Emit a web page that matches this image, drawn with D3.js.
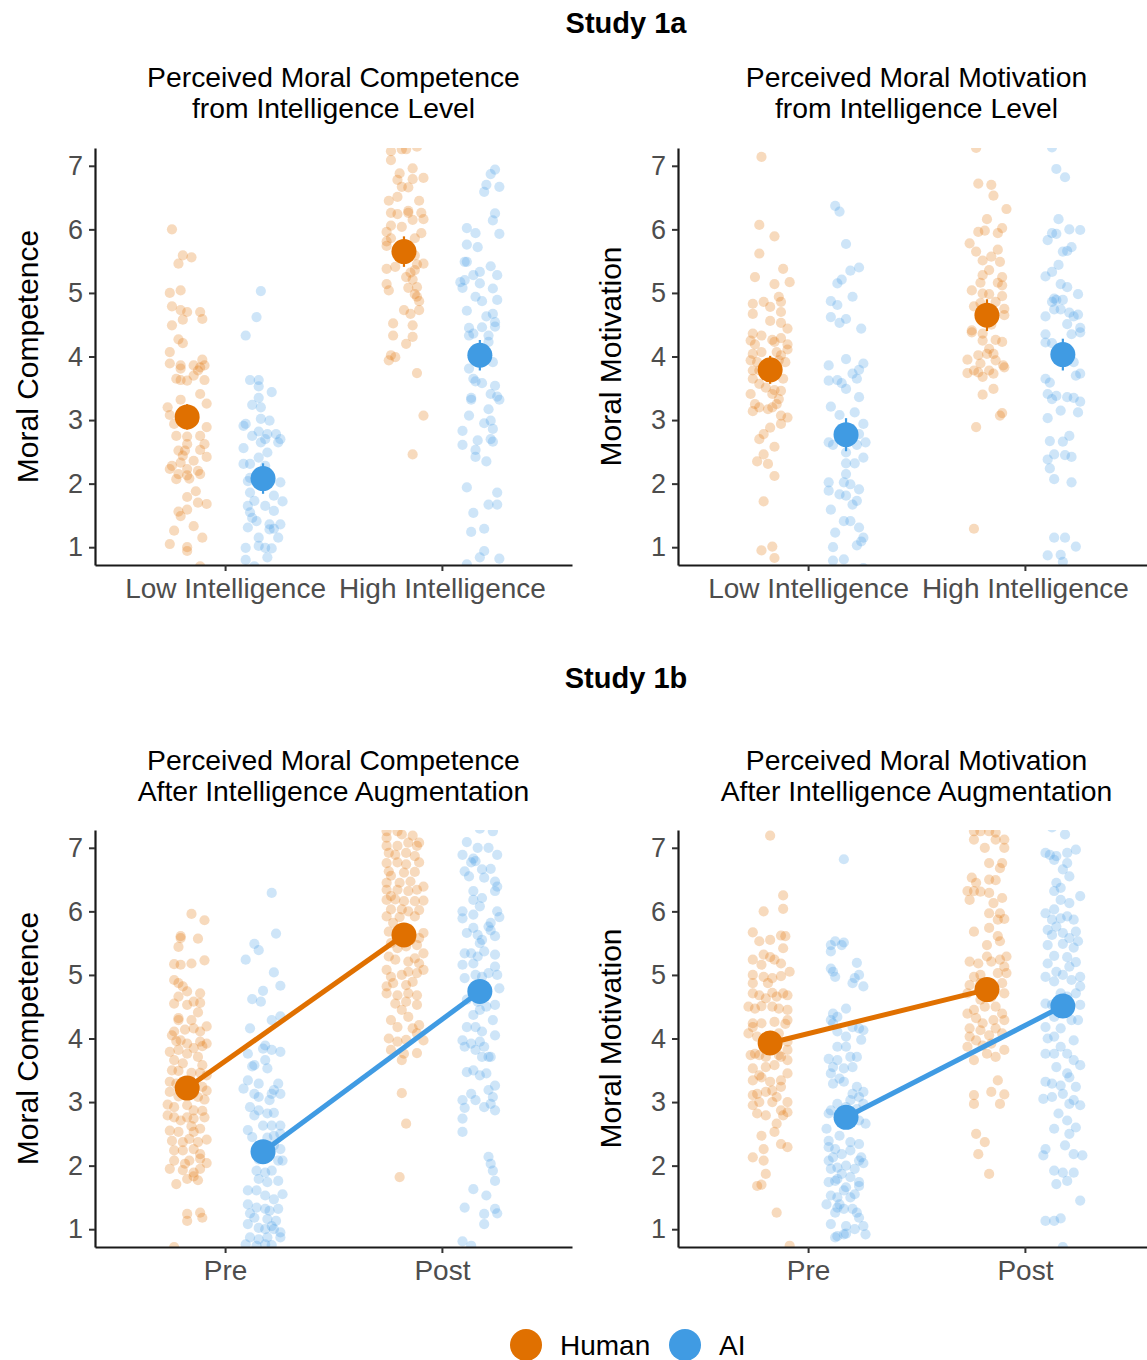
<!DOCTYPE html>
<html>
<head>
<meta charset="utf-8">
<script src="https://cdn.jsdelivr.net/npm/d3@7"></script>
<style>
  html, body { margin: 0; padding: 0; background: #ffffff; }
  svg { display: block; font-family: "Liberation Sans", Arial, Helvetica, sans-serif; }
</style>
</head>
<body>
<svg id="chart" width="1147" height="1360"></svg>
<script>
// ---------------- DATA ----------------
const groups = ["Human", "AI"];
const groupColors = ["#E07000", "#409BE3"];
const study1aCategories = ["Low Intelligence", "High Intelligence"];
const study1bCategories = ["Pre", "Post"];
const yTicks = [1, 2, 3, 4, 5, 6, 7];

// means and 95% CI half-widths: [category1, category2]
const comp1aHumanMeans = [3.05, 5.65];
const comp1aAIMeans = [2.08, 4.02];
const comp1aHumanCI = [0.20, 0.24];
const comp1aAICI = [0.24, 0.24];
const motiv1aHumanMeans = [3.79, 4.65];
const motiv1aAIMeans = [2.77, 4.03];
const motiv1aHumanCI = [0.22, 0.25];
const motiv1aAICI = [0.26, 0.25];
const comp1bHumanMeans = [3.22, 5.63];
const comp1bAIMeans = [2.22, 4.74];
const comp1bHumanCI = [0.12, 0.12];
const comp1bAICI = [0.13, 0.13];
const motiv1bHumanMeans = [3.93, 4.77];
const motiv1bAIMeans = [2.76, 4.51];
const motiv1bHumanCI = [0.12, 0.12];
const motiv1bAICI = [0.13, 0.13];

// raw responses: [jitter offset (category units), rating]
const comp1aLowHuman = [[-0.07,6.0],[-0.02,5.59],[0.02,5.56],[-0.04,5.46],[-0.08,5.0],[-0.03,5.04],[-0.07,4.79],[-0.03,4.73],[0.0,4.7],[0.06,4.7],[0.07,4.59],[-0.02,4.58],[-0.07,4.49],[-0.04,4.27],[-0.02,4.21],[-0.08,4.07],[-0.08,3.89],[-0.03,3.86],[-0.03,3.81],[0.03,3.86],[0.06,3.83],[0.08,3.86],[0.05,3.78],[0.07,3.95],[-0.05,3.65],[-0.03,3.63],[0.0,3.62],[0.03,3.7],[0.08,3.63],[0.06,3.41],[-0.03,3.32],[0.09,3.26],[-0.09,3.2],[-0.08,3.08],[-0.06,2.94],[0.09,2.89],[0.06,2.75],[-0.05,2.75],[0.0,2.74],[0.0,2.62],[0.08,2.62],[-0.01,2.52],[-0.04,2.52],[0.06,2.53],[-0.02,2.44],[0.09,2.42],[-0.03,2.33],[0.03,2.36],[-0.07,2.28],[-0.08,2.23],[0.0,2.23],[0.05,2.2],[-0.04,2.15],[0.0,2.13],[0.06,2.15],[-0.05,2.07],[0.01,2.08],[0.04,1.88],[0.0,1.79],[0.05,1.7],[0.09,1.68],[0.0,1.59],[-0.04,1.56],[-0.03,1.49],[0.03,1.33],[-0.06,1.26],[0.07,1.15],[-0.08,1.05],[0.0,1.0],[0.0,0.94],[0.06,0.7],[0.0,3.1],[-0.02,2.98],[0.03,3.0]];
const comp1aLowAI = [[-0.01,5.03],[-0.03,4.62],[-0.08,4.33],[-0.06,3.63],[-0.02,3.63],[-0.02,3.53],[0.04,3.44],[-0.02,3.35],[-0.05,3.24],[-0.01,3.2],[-0.01,3.02],[0.03,2.99],[-0.08,2.94],[-0.09,2.91],[-0.02,2.82],[0.02,2.78],[0.06,2.78],[-0.05,2.75],[0.01,2.7],[0.08,2.7],[0.07,2.65],[-0.01,2.65],[-0.09,2.56],[0.02,2.49],[-0.02,2.41],[-0.06,2.31],[-0.09,2.31],[0.01,2.28],[-0.06,2.09],[0.08,2.02],[-0.07,2.04],[-0.06,1.86],[0.05,1.81],[-0.04,1.73],[0.09,1.72],[-0.07,1.65],[0.01,1.65],[-0.06,1.55],[0.05,1.57],[-0.05,1.46],[-0.03,1.41],[0.03,1.36],[-0.07,1.31],[0.08,1.36],[0.03,1.28],[0.05,1.29],[-0.02,1.15],[0.07,1.15],[-0.08,0.99],[-0.02,1.02],[0.01,0.99],[0.04,0.98],[0.02,0.84],[-0.08,0.8],[-0.04,0.7],[0.0,2.15],[0.02,2.0]];
const comp1aHighHuman = [[-0.06,7.23],[-0.01,7.26],[0.01,7.26],[0.06,7.3],[-0.06,7.09],[-0.02,6.88],[0.04,6.96],[-0.03,6.78],[0.04,6.79],[0.09,6.81],[-0.01,6.67],[0.02,6.66],[-0.07,6.45],[-0.03,6.51],[0.07,6.45],[-0.06,6.26],[-0.03,6.24],[0.02,6.26],[0.02,6.29],[0.08,6.26],[0.09,6.16],[0.04,6.15],[-0.06,6.06],[-0.01,6.04],[-0.08,5.96],[0.08,5.94],[-0.06,5.86],[0.05,5.86],[-0.08,5.81],[-0.08,5.74],[0.05,5.59],[0.09,5.46],[0.06,5.45],[-0.04,5.41],[-0.08,5.38],[0.05,5.36],[0.03,5.32],[0.01,5.25],[0.04,5.21],[-0.08,5.14],[0.06,5.09],[-0.07,5.04],[0.02,5.08],[0.05,4.98],[0.06,4.94],[0.07,4.87],[0.07,4.73],[0.0,4.73],[0.03,4.67],[-0.05,4.52],[0.04,4.49],[-0.05,4.33],[0.04,4.31],[0.01,4.2],[-0.06,4.02],[-0.07,3.94],[-0.04,3.99],[0.06,3.74],[0.09,3.07],[0.04,2.46],[0.0,5.7],[-0.02,5.55]];
const comp1aHighAI = [[0.07,6.94],[0.05,6.87],[0.03,6.7],[0.02,6.59],[0.09,6.67],[0.07,6.25],[0.06,6.14],[-0.06,6.02],[-0.02,5.94],[0.09,5.93],[-0.06,5.76],[-0.01,5.72],[-0.07,5.49],[-0.06,5.49],[0.05,5.42],[0.08,5.28],[0.0,5.33],[-0.09,5.17],[-0.07,5.2],[-0.03,5.28],[-0.08,5.08],[0.0,5.15],[0.06,5.07],[0.08,4.89],[-0.02,4.94],[0.01,4.87],[-0.06,4.72],[0.03,4.63],[0.06,4.67],[0.07,4.54],[0.07,4.47],[-0.05,4.45],[0.01,4.46],[0.04,4.33],[-0.03,4.36],[-0.05,4.33],[0.04,4.23],[0.06,3.91],[-0.05,3.81],[-0.03,3.65],[0.01,3.58],[-0.02,3.61],[0.07,3.54],[0.05,3.41],[0.08,3.37],[0.09,3.32],[-0.04,3.35],[-0.04,3.32],[0.04,3.17],[-0.05,3.07],[0.05,2.99],[0.02,2.95],[0.06,2.86],[-0.08,2.83],[-0.08,2.61],[-0.01,2.68],[0.05,2.7],[0.06,2.66],[-0.02,2.53],[-0.02,2.42],[0.03,2.35],[-0.06,1.94],[0.08,1.86],[0.04,1.67],[0.08,1.67],[-0.03,1.54],[0.02,1.29],[-0.04,1.24],[0.02,0.94],[0.0,0.84],[0.09,0.82],[-0.06,0.73],[0.02,4.05],[-0.02,3.98]];

const motiv1aLowHuman = [[-0.04,7.14],[-0.05,6.07],[0.02,5.89],[-0.05,5.62],[0.06,5.38],[-0.07,5.25],[0.02,5.14],[0.09,5.17],[-0.08,4.83],[-0.03,4.86],[0.0,4.78],[0.05,4.86],[0.04,4.94],[-0.08,4.67],[0.05,4.7],[0.0,4.56],[0.05,4.53],[0.08,4.44],[-0.08,4.36],[-0.04,4.33],[0.05,4.29],[0.01,4.26],[-0.09,4.25],[-0.07,4.19],[0.02,4.23],[0.08,4.19],[0.08,4.11],[-0.08,4.04],[-0.04,4.07],[0.03,4.07],[0.05,4.02],[-0.09,3.94],[-0.06,3.91],[0.04,3.94],[0.07,3.91],[-0.08,3.78],[-0.05,3.78],[-0.08,3.65],[0.06,3.65],[-0.05,3.57],[-0.02,3.51],[0.02,3.47],[0.05,3.46],[-0.09,3.41],[0.01,3.41],[0.04,3.33],[0.03,3.25],[-0.07,3.25],[-0.05,3.2],[-0.08,3.14],[-0.01,3.17],[0.01,3.2],[0.05,3.07],[0.08,3.04],[0.05,2.94],[0.0,2.88],[-0.03,2.78],[0.02,2.58],[-0.05,2.7],[-0.03,2.46],[-0.06,2.35],[-0.01,2.31],[0.02,2.12],[-0.03,1.72],[-0.04,0.95],[0.01,1.01],[0.02,0.83],[0.0,3.85],[0.02,3.7]];
const motiv1aLowAI = [[-0.05,6.37],[-0.03,6.28],[0.0,5.77],[0.06,5.4],[0.02,5.35],[-0.02,5.21],[-0.04,5.15],[0.03,4.94],[-0.07,4.87],[-0.04,4.81],[-0.07,4.62],[0.0,4.59],[-0.03,4.53],[0.07,4.44],[0.0,3.96],[-0.08,3.86],[0.08,3.89],[0.06,3.79],[0.03,3.73],[-0.08,3.62],[-0.04,3.63],[-0.02,3.58],[0.05,3.65],[0.0,3.49],[0.06,3.36],[-0.07,3.21],[-0.03,3.08],[0.04,3.12],[0.08,2.94],[0.06,2.78],[-0.08,2.65],[-0.06,2.61],[0.0,2.49],[0.05,2.61],[0.09,2.65],[0.08,2.41],[0.0,2.32],[0.04,2.32],[0.0,2.15],[-0.08,2.02],[-0.08,1.89],[-0.01,2.02],[0.06,1.91],[0.02,1.99],[-0.03,1.83],[0.0,1.81],[0.05,1.73],[0.03,1.67],[-0.07,1.59],[-0.01,1.41],[0.02,1.41],[-0.05,1.23],[0.06,1.31],[0.08,1.15],[0.07,1.09],[-0.06,1.0],[0.05,1.03],[-0.06,0.79],[-0.01,0.81],[0.08,0.67],[0.0,2.85],[0.02,2.7]];
const motiv1aHighHuman = [[-0.05,7.28],[-0.04,6.72],[0.02,6.7],[0.03,6.53],[0.09,6.32],[0.0,6.16],[-0.04,5.96],[-0.01,5.98],[0.05,5.94],[0.07,6.02],[-0.08,5.78],[-0.05,5.65],[0.05,5.68],[0.02,5.57],[-0.02,5.51],[0.06,5.49],[0.01,5.36],[-0.02,5.28],[-0.03,5.16],[0.07,5.25],[0.07,5.12],[0.05,5.16],[-0.07,5.04],[-0.02,4.99],[0.01,4.98],[0.04,4.86],[0.07,4.95],[-0.06,4.79],[-0.03,4.84],[0.08,4.75],[0.08,4.65],[-0.07,4.38],[-0.02,4.36],[-0.02,4.25],[0.04,4.26],[0.07,4.23],[-0.07,4.41],[0.01,4.12],[0.0,4.04],[-0.04,4.02],[0.03,4.04],[0.04,3.94],[-0.09,3.95],[-0.03,3.89],[0.08,3.83],[0.075,3.86],[0.01,3.78],[-0.06,3.78],[-0.09,3.74],[-0.04,3.75],[-0.02,3.68],[0.03,3.73],[0.03,3.49],[-0.02,3.4],[0.07,3.11],[0.06,3.07],[-0.05,2.89],[-0.06,1.29],[0.0,4.6],[0.02,4.5]];
const motiv1aHighAI = [[-0.05,7.29],[-0.03,6.95],[0.01,6.82],[-0.02,6.16],[-0.05,5.94],[-0.03,5.93],[0.03,6.0],[0.08,5.99],[-0.07,5.83],[0.0,5.65],[0.02,5.66],[0.04,5.72],[-0.02,5.44],[-0.08,5.26],[-0.05,5.33],[-0.01,5.14],[0.02,5.09],[0.07,4.98],[-0.04,4.91],[-0.03,4.89],[0.0,4.89],[-0.05,4.86],[-0.04,4.74],[-0.01,4.74],[-0.08,4.63],[0.03,4.69],[0.05,4.63],[0.07,4.66],[0.02,4.51],[0.08,4.45],[0.08,4.38],[0.04,4.35],[-0.08,4.35],[-0.08,4.22],[-0.05,4.21],[0.05,3.91],[0.08,3.73],[0.06,3.7],[-0.08,3.65],[-0.06,3.59],[-0.07,3.41],[-0.03,3.38],[-0.05,3.33],[0.02,3.36],[0.05,3.35],[0.08,3.29],[-0.01,3.15],[0.07,3.12],[-0.07,3.03],[0.03,2.75],[0.0,2.66],[-0.06,2.67],[-0.04,2.46],[0.01,2.45],[0.04,2.42],[-0.07,2.38],[-0.06,2.24],[-0.04,2.07],[0.04,2.02],[-0.04,1.15],[0.01,1.15],[0.06,1.01],[-0.07,0.87],[-0.01,0.88],[0.0,0.77],[0.0,4.05],[0.02,3.95]];

const comp1bPreHuman = [[0.02,5.96],[0.08,5.86],[-0.03,5.61],[-0.03,5.58],[0.05,5.57],[-0.04,5.44],[-0.06,5.17],[-0.03,5.16],[0.02,5.18],[0.08,5.23],[-0.06,4.92],[-0.04,4.87],[-0.02,4.82],[0.06,4.71],[0.0,4.74],[0.03,4.58],[0.06,4.56],[0.05,4.41],[-0.06,4.55],[0.0,4.53],[-0.04,4.66],[-0.04,4.32],[-0.04,4.29],[0.02,4.29],[0.09,4.19],[-0.07,4.05],[-0.06,4.11],[-0.01,4.14],[0.03,4.16],[0.06,4.11],[-0.03,3.97],[-0.05,3.96],[0.0,3.92],[0.03,3.85],[0.07,3.88],[0.09,3.92],[0.06,3.95],[-0.08,3.79],[-0.04,3.82],[0.0,3.76],[0.05,3.71],[-0.06,3.66],[-0.02,3.61],[0.07,3.58],[-0.07,3.5],[-0.04,3.49],[0.02,3.46],[0.06,3.46],[0.09,3.42],[-0.08,3.32],[-0.05,3.29],[0.07,3.24],[0.09,3.18],[-0.08,3.16],[-0.04,3.09],[0.05,3.08],[0.08,3.04],[-0.09,2.96],[-0.06,2.92],[0.0,2.95],[0.03,2.87],[0.07,2.86],[-0.09,2.79],[-0.06,2.76],[-0.03,2.71],[0.0,2.76],[0.03,2.74],[0.08,2.76],[-0.08,2.55],[-0.04,2.53],[0.02,2.62],[0.03,2.53],[0.06,2.58],[-0.07,2.39],[-0.02,2.37],[0.01,2.42],[0.05,2.37],[0.09,2.41],[-0.06,2.24],[-0.02,2.24],[0.03,2.26],[0.06,2.18],[-0.06,2.08],[-0.01,2.03],[0.01,2.08],[0.06,2.11],[0.09,2.04],[-0.08,1.95],[-0.02,1.93],[0.03,1.89],[0.06,1.95],[-0.05,1.71],[0.0,1.79],[0.03,1.83],[0.05,1.77],[0.0,1.24],[0.0,1.13],[0.06,1.26],[0.07,1.18],[-0.06,0.72],[0.0,3.3],[0.03,3.15]];
const comp1bPreAI = [[0.04,6.29],[0.06,5.65],[-0.04,5.49],[-0.02,5.39],[-0.08,5.24],[0.05,5.04],[0.08,4.83],[0.0,4.75],[-0.05,4.62],[-0.01,4.58],[-0.06,4.16],[0.04,4.29],[0.08,4.35],[0.01,3.89],[0.0,3.84],[0.04,3.82],[0.08,3.79],[-0.07,3.76],[-0.04,3.58],[0.02,3.53],[0.01,3.66],[-0.05,3.56],[-0.07,3.34],[-0.02,3.29],[0.07,3.29],[0.05,3.19],[0.04,3.13],[-0.09,3.21],[-0.04,3.13],[-0.02,3.08],[0.03,3.03],[0.08,3.13],[-0.06,2.92],[-0.02,2.87],[0.05,2.83],[-0.04,2.79],[0.02,2.82],[-0.07,2.56],[0.0,2.63],[0.04,2.63],[0.08,2.63],[-0.05,2.45],[0.02,2.44],[0.05,2.47],[0.08,2.5],[0.05,2.32],[0.08,2.26],[0.03,2.18],[-0.02,2.13],[0.07,2.08],[0.09,2.08],[-0.03,1.92],[0.01,1.89],[0.04,1.92],[-0.02,1.79],[0.07,1.76],[0.02,1.74],[-0.07,1.61],[-0.03,1.61],[0.01,1.53],[0.09,1.55],[0.05,1.47],[-0.07,1.39],[-0.03,1.34],[0.01,1.32],[0.03,1.29],[0.07,1.32],[-0.06,1.25],[-0.04,1.18],[0.02,1.16],[0.06,1.13],[0.04,1.05],[-0.07,1.08],[-0.02,1.02],[0.01,1.0],[0.05,1.0],[0.08,0.95],[-0.06,0.87],[-0.02,0.84],[0.02,0.87],[0.08,0.87],[-0.08,0.76],[-0.03,0.74],[0.01,0.76],[0.04,0.75],[0.0,2.3],[-0.02,2.1]];
const comp1bPostHuman = [[-0.08,7.26],[-0.03,7.26],[0.04,7.19],[0.07,7.08],[-0.08,7.16],[-0.01,7.21],[-0.08,7.03],[-0.03,7.03],[0.02,7.08],[0.06,7.03],[-0.07,6.92],[-0.04,6.89],[0.01,6.92],[0.05,6.87],[-0.08,6.76],[-0.03,6.77],[0.01,6.74],[0.07,6.77],[-0.07,6.63],[0.0,6.61],[0.05,6.62],[-0.06,6.56],[-0.08,6.45],[-0.02,6.45],[0.03,6.47],[0.09,6.39],[-0.08,6.34],[-0.03,6.34],[0.02,6.32],[0.06,6.34],[-0.06,6.24],[-0.08,6.18],[-0.04,6.19],[0.0,6.16],[0.05,6.16],[0.09,6.17],[-0.06,6.03],[-0.01,6.03],[0.02,6.0],[0.07,6.02],[-0.08,5.92],[-0.02,5.91],[0.05,5.92],[-0.05,5.82],[-0.07,5.68],[-0.01,5.66],[0.09,5.66],[0.07,5.58],[-0.06,5.5],[-0.03,5.42],[0.01,5.45],[0.06,5.47],[0.09,5.34],[-0.07,5.29],[-0.04,5.24],[0.02,5.21],[0.05,5.26],[0.07,5.18],[-0.08,5.08],[-0.06,4.97],[-0.01,5.0],[0.02,5.05],[0.06,5.03],[0.09,5.08],[-0.05,4.87],[0.01,4.84],[0.04,4.89],[-0.08,4.82],[-0.08,4.71],[-0.03,4.68],[0.02,4.71],[0.06,4.68],[0.01,4.58],[-0.04,4.55],[-0.01,4.45],[0.06,4.53],[-0.06,4.29],[-0.03,4.18],[0.02,4.34],[0.07,4.21],[0.04,4.16],[-0.07,4.0],[-0.03,3.95],[0.01,3.98],[0.09,3.97],[0.06,4.08],[-0.06,3.82],[0.0,3.76],[0.06,3.77],[-0.01,3.66],[-0.01,3.14],[0.01,2.66],[-0.02,1.82],[0.0,5.7],[0.03,5.55]];
const comp1bPostAI = [[0.0,7.3],[0.06,7.26],[-0.06,7.09],[-0.01,7.0],[0.04,7.0],[0.08,6.89],[-0.08,6.89],[-0.03,6.83],[-0.04,6.77],[-0.02,6.79],[-0.07,6.63],[0.01,6.66],[0.05,6.67],[0.07,6.47],[0.08,6.39],[0.02,6.53],[-0.05,6.55],[0.07,6.32],[-0.03,6.32],[-0.03,6.18],[0.01,6.21],[0.0,6.08],[-0.08,6.0],[0.08,6.0],[-0.08,5.89],[0.09,5.91],[-0.03,5.95],[0.05,5.82],[-0.06,5.66],[0.04,5.76],[-0.03,5.74],[0.07,5.61],[-0.01,5.63],[0.01,5.55],[0.05,5.7],[0.0,5.5],[-0.07,5.34],[-0.04,5.34],[0.02,5.37],[0.07,5.32],[-0.01,5.29],[-0.08,5.16],[-0.03,5.18],[0.07,5.13],[0.08,5.0],[0.04,5.03],[-0.07,4.95],[-0.02,5.0],[0.01,4.97],[0.09,4.79],[-0.06,4.61],[-0.01,4.58],[0.0,4.45],[0.03,4.5],[0.07,4.53],[0.06,4.29],[-0.03,4.37],[-0.06,4.18],[-0.02,4.18],[0.01,4.11],[0.07,4.05],[-0.08,3.97],[-0.07,3.87],[-0.04,3.92],[0.0,3.95],[0.02,3.87],[0.05,3.71],[-0.02,3.82],[0.01,3.71],[0.04,3.71],[-0.03,3.5],[0.0,3.42],[0.03,3.45],[-0.06,3.47],[0.07,3.26],[0.04,3.19],[-0.04,3.13],[-0.02,3.03],[0.06,3.08],[0.05,2.97],[0.07,2.87],[-0.08,3.03],[-0.07,2.91],[0.02,2.92],[-0.08,2.74],[-0.08,2.53],[0.04,2.14],[0.05,2.03],[0.06,1.92],[0.07,1.76],[-0.03,1.63],[0.03,1.53],[-0.07,1.34],[0.02,1.24],[0.07,1.32],[0.08,1.25],[0.02,1.08],[-0.08,0.81],[-0.04,0.74],[0.0,4.8],[0.02,4.65]];

const motiv1bPreHuman = [[0.0,7.19],[0.06,6.25],[0.06,6.04],[-0.03,6.0],[-0.08,5.67],[-0.05,5.53],[0.0,5.55],[0.05,5.62],[0.07,5.61],[0.06,5.42],[-0.03,5.32],[0.0,5.28],[0.02,5.24],[-0.08,5.24],[-0.04,5.16],[0.05,5.18],[0.09,5.05],[-0.08,5.0],[-0.03,4.97],[0.01,4.95],[0.05,4.98],[-0.08,4.87],[-0.01,4.87],[-0.08,4.71],[-0.05,4.68],[0.01,4.72],[0.06,4.71],[0.08,4.68],[-0.02,4.63],[0.03,4.66],[-0.10,4.5],[-0.07,4.47],[-0.04,4.51],[0.01,4.5],[0.04,4.47],[0.08,4.45],[0.08,4.29],[-0.08,4.24],[-0.08,4.18],[-0.04,4.24],[0.02,4.26],[0.07,4.23],[0.04,4.08],[-0.10,4.08],[-0.06,4.03],[0.08,3.95],[0.08,3.82],[-0.07,3.76],[0.05,3.71],[0.08,3.66],[-0.09,3.74],[-0.05,3.74],[-0.02,3.71],[0.04,3.74],[-0.08,3.53],[-0.02,3.55],[0.02,3.58],[0.08,3.45],[-0.05,3.42],[-0.04,3.39],[-0.08,3.34],[0.0,3.32],[0.05,3.34],[0.05,3.24],[0.01,3.18],[-0.06,3.13],[-0.08,3.11],[-0.02,3.16],[0.03,3.08],[0.08,3.0],[-0.05,3.0],[0.01,3.0],[-0.08,2.95],[0.05,2.87],[0.08,2.84],[-0.06,2.82],[-0.02,2.79],[0.06,2.79],[0.03,2.66],[0.02,2.53],[-0.04,2.47],[0.05,2.34],[0.08,2.29],[-0.03,2.26],[-0.08,2.13],[-0.03,2.08],[-0.02,1.87],[-0.06,1.68],[-0.04,1.7],[0.03,1.26],[0.09,0.74],[0.0,4.0],[0.02,3.85]];
const motiv1bPreAI = [[-0.01,6.82],[-0.07,5.47],[-0.05,5.53],[-0.01,5.51],[-0.07,5.37],[-0.02,5.47],[0.05,5.19],[-0.06,5.05],[-0.05,4.97],[-0.07,5.1],[0.06,5.0],[0.04,4.95],[0.03,4.87],[0.08,4.82],[0.0,4.47],[-0.06,4.39],[-0.04,4.34],[-0.06,4.24],[-0.07,4.29],[0.03,4.18],[0.06,4.16],[0.08,4.13],[-0.04,4.11],[0.07,3.98],[0.0,4.03],[-0.04,3.87],[0.0,3.87],[-0.08,3.68],[-0.04,3.66],[0.02,3.71],[0.05,3.71],[-0.06,3.55],[-0.01,3.53],[0.03,3.55],[-0.07,3.45],[-0.03,3.37],[-0.06,3.29],[-0.01,3.32],[0.05,3.24],[0.08,3.16],[0.03,3.13],[0.06,3.08],[0.02,3.03],[0.08,2.97],[-0.04,2.97],[0.0,2.92],[-0.07,2.87],[0.05,2.89],[-0.08,2.82],[0.06,2.71],[0.09,2.66],[-0.09,2.58],[-0.03,2.47],[-0.08,2.39],[0.02,2.37],[0.06,2.34],[-0.08,2.29],[-0.05,2.26],[-0.02,2.18],[0.02,2.24],[0.07,2.13],[-0.06,2.13],[0.06,2.08],[0.08,2.04],[-0.08,2.08],[-0.04,1.97],[0.0,2.0],[-0.07,1.95],[-0.02,1.87],[0.04,1.95],[-0.08,1.74],[-0.05,1.76],[-0.04,1.79],[0.02,1.82],[0.06,1.74],[0.06,1.68],[0.0,1.66],[-0.07,1.53],[-0.04,1.5],[-0.01,1.61],[0.02,1.5],[0.04,1.55],[-0.09,1.39],[-0.03,1.39],[-0.04,1.34],[-0.01,1.32],[0.03,1.32],[0.05,1.26],[-0.05,1.26],[0.06,1.18],[0.08,1.05],[0.09,0.92],[-0.07,1.08],[0.0,1.05],[0.04,1.0],[-0.04,0.89],[-0.01,0.92],[0.0,0.93],[-0.05,0.87],[0.0,2.8],[0.02,2.7]];
const motiv1bPostHuman = [[-0.06,7.26],[-0.03,7.26],[0.01,7.26],[0.04,7.24],[-0.06,7.13],[-0.01,7.0],[0.04,7.13],[0.08,7.0],[0.08,7.13],[0.01,6.76],[0.07,6.76],[0.06,6.68],[-0.07,6.53],[-0.05,6.45],[0.01,6.5],[0.04,6.49],[-0.09,6.32],[-0.06,6.32],[-0.08,6.18],[-0.03,6.31],[0.01,6.29],[0.07,6.21],[0.03,6.13],[0.01,5.97],[0.06,5.97],[0.08,5.88],[0.05,5.87],[-0.06,5.68],[0.01,5.74],[0.05,5.61],[0.06,5.53],[0.0,5.47],[-0.08,5.21],[-0.04,5.18],[0.0,5.29],[0.02,5.21],[0.06,5.24],[0.09,5.29],[0.08,5.13],[-0.03,5.0],[0.05,5.03],[0.09,5.03],[-0.06,4.97],[-0.08,4.84],[-0.03,4.87],[0.07,4.87],[0.08,4.71],[-0.09,4.71],[-0.03,4.61],[-0.09,4.39],[-0.06,4.45],[-0.01,4.5],[0.04,4.5],[0.07,4.39],[-0.05,4.32],[-0.02,4.24],[0.03,4.29],[0.08,4.29],[-0.08,4.16],[0.04,4.16],[-0.03,4.13],[-0.08,4.03],[-0.05,3.97],[0.01,4.05],[0.07,4.08],[0.02,3.92],[-0.09,3.87],[-0.02,3.89],[0.08,3.82],[0.0,3.76],[0.04,3.71],[-0.06,3.66],[0.05,3.34],[0.02,3.16],[-0.06,3.11],[0.08,3.12],[0.06,2.97],[-0.06,2.97],[-0.05,2.5],[-0.01,2.37],[-0.04,2.18],[0.01,1.87],[0.0,4.8],[0.02,4.65]];
const motiv1bPostAI = [[-0.05,7.32],[0.01,7.21],[-0.08,6.92],[-0.03,6.87],[0.02,6.92],[0.06,6.97],[0.02,6.76],[0.0,6.66],[0.03,6.55],[-0.04,6.81],[-0.06,6.89],[-0.03,6.45],[-0.01,6.37],[-0.04,6.32],[0.08,6.24],[0.03,6.13],[-0.01,6.18],[-0.08,5.97],[-0.04,6.03],[-0.05,5.87],[-0.01,5.89],[0.02,5.92],[0.05,5.87],[-0.07,5.71],[-0.03,5.76],[0.0,5.66],[0.03,5.58],[0.06,5.68],[0.07,5.53],[-0.05,5.63],[-0.07,5.47],[0.0,5.49],[0.05,5.43],[-0.04,5.3],[0.02,5.28],[0.06,5.2],[-0.07,5.18],[-0.03,5.05],[0.03,5.13],[0.08,4.97],[-0.08,4.97],[0.0,5.0],[0.04,4.92],[0.08,4.82],[-0.04,4.9],[-0.01,4.71],[0.02,4.66],[0.06,4.71],[-0.08,4.55],[-0.05,4.53],[0.08,4.53],[-0.04,4.34],[-0.08,4.18],[0.04,4.29],[0.07,4.29],[-0.01,4.16],[-0.07,4.0],[-0.04,4.03],[0.05,3.97],[-0.01,3.87],[0.02,3.76],[-0.08,3.76],[-0.03,3.55],[0.08,3.58],[-0.04,3.76],[0.05,3.66],[-0.08,3.32],[-0.05,3.29],[-0.01,3.26],[0.02,3.45],[0.03,3.39],[0.06,3.24],[0.0,3.13],[-0.09,3.05],[0.05,3.03],[-0.05,3.08],[0.03,2.97],[-0.02,2.82],[0.02,2.71],[0.08,2.95],[-0.04,2.58],[0.06,2.6],[0.03,2.5],[-0.08,2.26],[-0.09,2.16],[0.01,2.32],[0.05,2.18],[0.09,2.16],[-0.04,1.92],[0.0,1.89],[0.05,1.89],[0.02,1.76],[-0.03,1.71],[0.08,1.45],[-0.08,1.13],[-0.04,1.13],[-0.01,1.17],[0.0,0.72]];

// ---------------- DRAW ----------------
const svg = d3.select("#chart");
const FONT = '"Liberation Sans", Arial, Helvetica, sans-serif';

function drawPanel(cfg) {
  const x = d3.scaleLinear().domain([0.4, 2.6]).range([cfg.x0, cfg.x1]);
  const y = d3.scaleLinear().domain([0.72, 7.28]).range([cfg.y1, cfg.y0]);
  const dodge = 0.175;
  const g = svg.append("g");
  const clipId = "clip" + cfg.id;
  svg.append("clipPath").attr("id", clipId).append("rect")
    .attr("x", cfg.x0).attr("y", cfg.y0)
    .attr("width", cfg.x1 - cfg.x0).attr("height", cfg.y1 - cfg.y0);
  const plot = g.append("g").attr("clip-path", `url(#${clipId})`);

  // raw jittered points
  cfg.points.forEach((pts, idx) => {
    const cat = Math.floor(idx / 2) + 1;
    const gi = idx % 2;
    const cx = cat + (gi === 0 ? -dodge : dodge);
    plot.append("g").selectAll("circle").data(pts).join("circle")
      .attr("cx", d => x(cx + d[0]))
      .attr("cy", d => y(d[1]))
      .attr("r", 5.1)
      .attr("fill", groupColors[gi])
      .attr("fill-opacity", 0.26);
  });

  // connecting lines (study 1b)
  if (cfg.lines) {
    [cfg.humanMeans, cfg.aiMeans].forEach((means, gi) => {
      const off = gi === 0 ? -dodge : dodge;
      const line = d3.line().x((d, i) => x(i + 1 + off)).y(d => y(d));
      plot.append("path").datum(means)
        .attr("d", line)
        .attr("fill", "none")
        .attr("stroke", groupColors[gi])
        .attr("stroke-width", 5);
    });
  }

  // error bars and means
  [[cfg.humanMeans, cfg.humanCI], [cfg.aiMeans, cfg.aiCI]].forEach(([means, ci], gi) => {
    const off = gi === 0 ? -dodge : dodge;
    const mg = plot.append("g");
    mg.selectAll("line").data(means).join("line")
      .attr("x1", (d, i) => x(i + 1 + off)).attr("x2", (d, i) => x(i + 1 + off))
      .attr("y1", (d, i) => y(d - ci[i])).attr("y2", (d, i) => y(d + ci[i]))
      .attr("stroke", groupColors[gi]).attr("stroke-width", 2.2);
    mg.selectAll("circle").data(means).join("circle")
      .attr("cx", (d, i) => x(i + 1 + off))
      .attr("cy", d => y(d))
      .attr("r", 12.5)
      .attr("fill", groupColors[gi]);
  });

  // axes
  const yAxis = d3.axisLeft(y).tickValues(yTicks).tickFormat(d3.format("d"))
    .tickSize(6).tickSizeOuter(0).tickPadding(6);
  const ya = g.append("g").attr("transform", `translate(${cfg.x0},0)`).call(yAxis);
  const xAxis = d3.axisBottom(x).tickValues([1, 2]).tickFormat(d => cfg.categories[d - 1])
    .tickSize(6).tickSizeOuter(0).tickPadding(7);
  const xa = g.append("g").attr("transform", `translate(0,${cfg.y1})`).call(xAxis);
  [ya, xa].forEach(a => {
    a.select(".domain").attr("stroke", "#1a1a1a").attr("stroke-width", 2.2);
    a.selectAll(".tick line").attr("stroke", "#333333").attr("stroke-width", 2);
    a.selectAll(".tick text").attr("font-size", 27).attr("fill", "#4D4D4D")
      .attr("font-family", FONT);
  });
  xa.selectAll(".tick text").attr("font-size", 28);

  // titles
  const cx = (cfg.x0 + cfg.x1) / 2;
  cfg.title.forEach((t, i) => {
    g.append("text").attr("x", cx).attr("y", cfg.titleY + i * 31)
      .attr("text-anchor", "middle").attr("font-size", 28.3).attr("fill", "#000")
      .text(t);
  });
  g.append("text")
    .attr("transform", `translate(${cfg.x0 - 57},${(cfg.y0 + cfg.y1) / 2}) rotate(-90)`)
    .attr("text-anchor", "middle").attr("font-size", 30).attr("fill", "#000")
    .text(cfg.yLabel);
}

// study headings
svg.append("text").attr("x", 626).attr("y", 33).attr("text-anchor", "middle")
  .attr("font-size", 29).attr("font-weight", "bold").text("Study 1a");
svg.append("text").attr("x", 626).attr("y", 688).attr("text-anchor", "middle")
  .attr("font-size", 29).attr("font-weight", "bold").text("Study 1b");

drawPanel({
  id: 1, x0: 95, x1: 572, y0: 148, y1: 565, titleY: 87,
  title: ["Perceived Moral Competence", "from Intelligence Level"],
  yLabel: "Moral Competence", categories: study1aCategories,
  points: [comp1aLowHuman, comp1aLowAI, comp1aHighHuman, comp1aHighAI],
  humanMeans: comp1aHumanMeans, aiMeans: comp1aAIMeans,
  humanCI: comp1aHumanCI, aiCI: comp1aAICI, lines: false
});
drawPanel({
  id: 2, x0: 678, x1: 1155, y0: 148, y1: 565, titleY: 87,
  title: ["Perceived Moral Motivation", "from Intelligence Level"],
  yLabel: "Moral Motivation", categories: study1aCategories,
  points: [motiv1aLowHuman, motiv1aLowAI, motiv1aHighHuman, motiv1aHighAI],
  humanMeans: motiv1aHumanMeans, aiMeans: motiv1aAIMeans,
  humanCI: motiv1aHumanCI, aiCI: motiv1aAICI, lines: false
});
drawPanel({
  id: 3, x0: 95, x1: 572, y0: 830, y1: 1247, titleY: 770,
  title: ["Perceived Moral Competence", "After Intelligence Augmentation"],
  yLabel: "Moral Competence", categories: study1bCategories,
  points: [comp1bPreHuman, comp1bPreAI, comp1bPostHuman, comp1bPostAI],
  humanMeans: comp1bHumanMeans, aiMeans: comp1bAIMeans,
  humanCI: comp1bHumanCI, aiCI: comp1bAICI, lines: true
});
drawPanel({
  id: 4, x0: 678, x1: 1155, y0: 830, y1: 1247, titleY: 770,
  title: ["Perceived Moral Motivation", "After Intelligence Augmentation"],
  yLabel: "Moral Motivation", categories: study1bCategories,
  points: [motiv1bPreHuman, motiv1bPreAI, motiv1bPostHuman, motiv1bPostAI],
  humanMeans: motiv1bHumanMeans, aiMeans: motiv1bAIMeans,
  humanCI: motiv1bHumanCI, aiCI: motiv1bAICI, lines: true
});

// legend
const legendX = [526, 685];
const legend = svg.append("g");
groups.forEach((gname, i) => {
  legend.append("circle").attr("cx", legendX[i]).attr("cy", 1345).attr("r", 16)
    .attr("fill", groupColors[i]);
  legend.append("text").attr("x", legendX[i] + 34).attr("y", 1355)
    .attr("font-size", 28).attr("fill", "#000").text(gname);
});
</script>
</body>
</html>
